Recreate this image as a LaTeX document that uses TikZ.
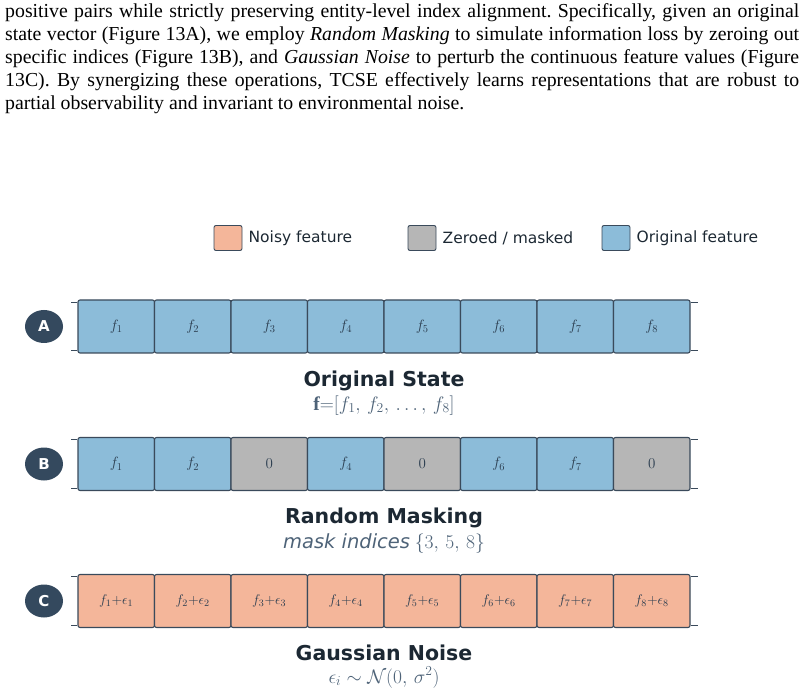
\RequirePackage{fix-cm}
\documentclass[tikz,border=0pt]{standalone}
\usepackage{amsmath,amssymb}
\usepackage{fontspec}
\setmainfont{Liberation Serif}
\newfontfamily\dejavu{DejaVu Sans}
\usepackage{xcolor}
\usepackage{tikz}
\usetikzlibrary{shapes.geometric, positioning}

\definecolor{origblue}{HTML}{8CBCD9}
\definecolor{maskgray}{HTML}{B6B6B6}
\definecolor{noisyorange}{HTML}{F4B69A}
\definecolor{edgecol}{HTML}{3A4A5B}
\definecolor{badgecol}{HTML}{34495E}
\definecolor{titlecol}{HTML}{1C2833}
\definecolor{subcol}{HTML}{4E6378}
\definecolor{labcol}{HTML}{2C3E50}

\tikzset{
    cell/.style={draw=edgecol, line width=1.1pt, rounded corners=2pt,
        minimum width=76.5pt, minimum height=53pt, inner sep=0pt,
        text=labcol, font=\fontsize{15}{17}\selectfont},
    origcell/.style={cell, fill=origblue},
    maskcell/.style={cell, fill=maskgray},
    noisecell/.style={cell, fill=noisyorange, font=\fontsize{14}{16}\selectfont},
    badge/.style={ellipse, fill=badgecol, minimum width=38pt, minimum height=33pt,
        inner sep=0pt, text=white, font=\dejavu\bfseries\fontsize{15}{17}\selectfont},
    rowtitle/.style={anchor=base, inner sep=0pt, text=titlecol,
        font=\dejavu\bfseries\fontsize{20.5}{24}\selectfont},
    rowsub/.style={anchor=base, inner sep=0pt, text=subcol,
        font=\fontsize{19.5}{22}\selectfont},
    legbox/.style={draw=edgecol, line width=0.9pt, rounded corners=2pt,
        minimum width=28pt, minimum height=25pt, inner sep=0pt},
    legtext/.style={inner sep=0pt, text=titlecol, font=\dejavu\fontsize{15.5}{18}\selectfont},
    tick/.style={draw=edgecol, line width=1pt},
    paraline/.style={anchor=base west, inner sep=0pt, font=\fontsize{19.8}{23}\selectfont\frenchspacing}
}

\begin{document}
\begin{tikzpicture}[x=1pt, y=-1pt]
    \useasboundingbox (0,0) rectangle (804,695);

    % text above the figure
    \node[paraline] (para1) at (5,18) {\makebox[794pt][s]{positive pairs while strictly preserving entity-level index alignment. Specifically, given an original}};
    \node[paraline] (para2) at (5,41) {\makebox[794pt][s]{state vector (Figure 13A), we employ \emph{Random Masking} to simulate information loss by zeroing out}};
    \node[paraline] (para3) at (5,64) {\makebox[794pt][s]{specific indices (Figure 13B), and \emph{Gaussian Noise} to perturb the continuous feature values (Figure}};
    \node[paraline] (para4) at (5,87) {\makebox[794pt][s]{13C). By synergizing these operations, TCSE effectively learns representations that are robust to}};
    \node[paraline] (para5) at (5,110) {partial observability and invariant to environmental noise.};

    % legend
    \node[legbox, fill=noisyorange] (lnoisy) at (228,238) {};
    \node[legtext, right=6pt of lnoisy] (lnoisytxt) {Noisy feature};
    \node[legbox, fill=maskgray] (lmask) at (422,238) {};
    \node[legtext, right=6pt of lmask] (lmasktxt) {Zeroed / masked};
    \node[legbox, fill=origblue] (lorig) at (616,238) {};
    \node[legtext, right=6pt of lorig] (lorigtxt) {Original feature};

    % A: original state
    \node[badge] (badgeA) at (44,326.5) {A};
    \foreach \i in {1,...,8}
        \node[origcell] (a\i) at ({78+76.5*(\i-0.5)},326.5) {$f_{\i}$};
    \node[rowtitle] (titleA) at (384,386) {Original State};
    \node[rowsub] (subA) at (384,410) {$\mathbf{f}{=}[f_1,\,f_2,\,\ldots,\,f_8]$};

    % B: random masking
    \node[badge] (badgeB) at (44,464) {B};
    \foreach \i/\kind/\lab in {1/origcell/f_1, 2/origcell/f_2, 3/maskcell/0, 4/origcell/f_4,
                               5/maskcell/0, 6/origcell/f_6, 7/origcell/f_7, 8/maskcell/0}
        \node[\kind] (b\i) at ({78+76.5*(\i-0.5)},464) {$\lab$};
    \node[rowtitle] (titleB) at (384,523) {Random Masking};
    \node[rowsub] (subB) at (384,548) {{\dejavu\itshape mask indices} $\{3,\,5,\,8\}$};

    % C: gaussian noise
    \node[badge] (badgeC) at (44,601) {C};
    \foreach \i in {1,...,8}
        \node[noisecell] (c\i) at ({78+76.5*(\i-0.5)},601) {$f_{\i}{+}\epsilon_{\i}$};
    \node[rowtitle] (titleC) at (384,660) {Gaussian Noise};
    \node[rowsub] (subC) at (384,683) {$\epsilon_i\sim\mathcal{N}(0,\,\sigma^2)$};

    % bracket ticks on both ends of each row
    \foreach \r in {a,b,c} {
        \draw[tick] ([yshift=-3pt]\r1.north west) -- ++(-6,0);
        \draw[tick] ([yshift=3pt]\r1.south west) -- ++(-6,0);
        \draw[tick] ([yshift=-3pt]\r8.north east) -- ++(7,0);
        \draw[tick] ([yshift=3pt]\r8.south east) -- ++(7,0);
    }
\end{tikzpicture}
\end{document}
